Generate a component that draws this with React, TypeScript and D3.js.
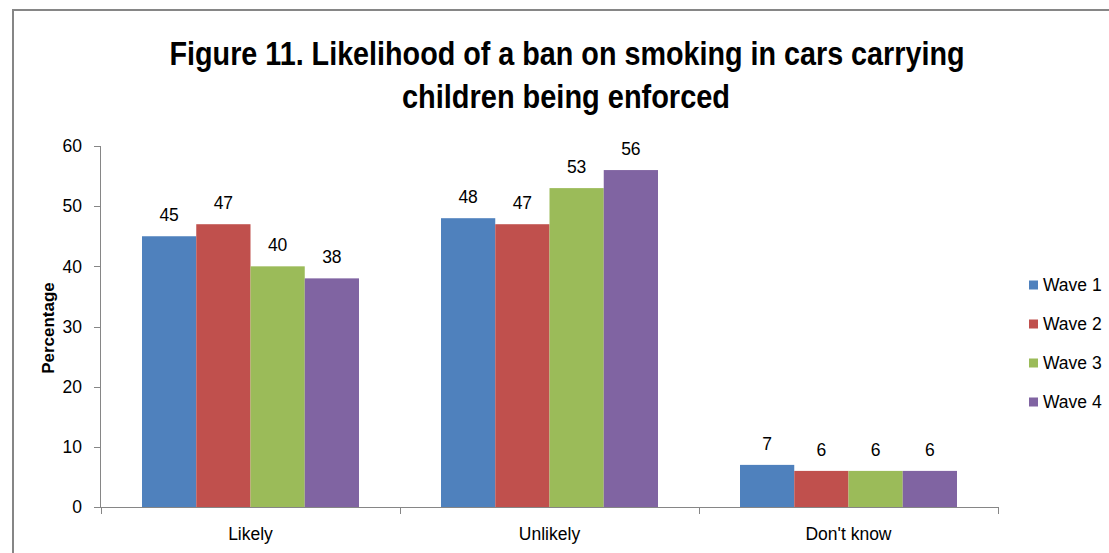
import React from "react";
import * as d3 from "d3";

const categories = ["Likely", "Unlikely", "Don't know"];
const seriesNames = ["Wave 1", "Wave 2", "Wave 3", "Wave 4"];
const wave1 = [45, 48, 7];
const wave2 = [47, 47, 6];
const wave3 = [40, 53, 6];
const wave4 = [38, 56, 6];
const yTicks = [0, 10, 20, 30, 40, 50, 60];
const colors = ["#4F81BD", "#C0504D", "#9BBB59", "#8064A2"];
const titleLines = [
  "Figure 11. Likelihood of a ban on smoking in cars carrying",
  "children being enforced",
];

const W = 1109;
const H = 553;
const plot = { left: 101, right: 998, top: 146, bottom: 507 };
const font = "'Liberation Sans', Arial, sans-serif";
const axisColor = "#868686";
const labelSize = 17.5;

export default function App() {
  const values = [wave1, wave2, wave3, wave4];
  const x0 = d3.scaleBand<string>().domain(categories).range([plot.left, plot.right]).padding(0);
  const x1 = d3
    .scaleBand<string>()
    .domain(seriesNames)
    .range([0, x0.bandwidth()])
    .paddingInner(0)
    .paddingOuter(0.756);
  const y = d3.scaleLinear().domain([0, 60]).range([plot.bottom, plot.top]);

  const boundaries = [...categories.map((c) => x0(c) as number), plot.right];

  return (
    <svg
      width={W}
      height={H}
      style={{ position: "absolute", left: 0, top: 0, background: "#fff" }}
      fontFamily={font}
    >
      <rect x={0} y={0} width={W} height={H} fill="#fff" />
      {/* chart frame */}
      <path d={`M13,${H} V10 H${W}`} fill="none" stroke={axisColor} strokeWidth={2} />

      {/* title */}
      <g fontWeight="bold" fontSize={34} textAnchor="middle" fill="#000">
        <text x={567} y={65} textLength={795} lengthAdjust="spacingAndGlyphs">
          {titleLines[0]}
        </text>
        <text x={566} y={108} textLength={328} lengthAdjust="spacingAndGlyphs">
          {titleLines[1]}
        </text>
      </g>

      {/* y axis */}
      <line x1={plot.left - 0.5} x2={plot.left - 0.5} y1={plot.top} y2={plot.bottom} stroke={axisColor} />
      {yTicks.map((t) => (
        <g key={t}>
          <line x1={plot.left - 7} x2={plot.left} y1={Math.round(y(t)) + 0.5} y2={Math.round(y(t)) + 0.5} stroke={axisColor} />
          <text x={plot.left - 19} y={y(t)} dy="0.36em" textAnchor="end" fontSize={labelSize} fill="#000">
            {t}
          </text>
        </g>
      ))}
      <text
        transform={`translate(54,328) rotate(-90)`}
        textAnchor="middle"
        fontWeight="bold"
        fontSize={17}
        fill="#000"
      >
        Percentage
      </text>

      {/* bars */}
      {categories.map((c, ci) => (
        <g key={c} transform={`translate(${x0(c)},0)`}>
          {seriesNames.map((s, si) => {
            const v = values[si][ci];
            const bx = x1(s) as number;
            return (
              <g key={s}>
                <rect x={bx} y={y(v)} width={x1.bandwidth()} height={plot.bottom - y(v)} fill={colors[si]} />
                <text
                  x={bx + x1.bandwidth() / 2}
                  y={y(v) - 15}
                  textAnchor="middle"
                  fontSize={labelSize}
                  fill="#000"
                >
                  {v}
                </text>
              </g>
            );
          })}
        </g>
      ))}

      {/* x axis */}
      <line x1={plot.left - 1} x2={plot.right} y1={plot.bottom + 0.5} y2={plot.bottom + 0.5} stroke={axisColor} />
      {boundaries.map((b, i) => (
        <line key={i} x1={Math.round(b) + 0.5} x2={Math.round(b) + 0.5} y1={plot.bottom} y2={plot.bottom + 7} stroke={axisColor} />
      ))}
      {categories.map((c) => (
        <text
          key={c}
          x={(x0(c) as number) + x0.bandwidth() / 2}
          y={540}
          textAnchor="middle"
          fontSize={labelSize}
          fill="#000"
        >
          {c}
        </text>
      ))}

      {/* legend */}
      {seriesNames.map((s, i) => (
        <g key={s} transform={`translate(1029,${285 + i * 39})`}>
          <rect x={0} y={-4.5} width={9} height={9} fill={colors[i]} />
          <text x={14} y={0} dy="0.36em" fontSize={labelSize} fill="#000">
            {s}
          </text>
        </g>
      ))}
    </svg>
  );
}
